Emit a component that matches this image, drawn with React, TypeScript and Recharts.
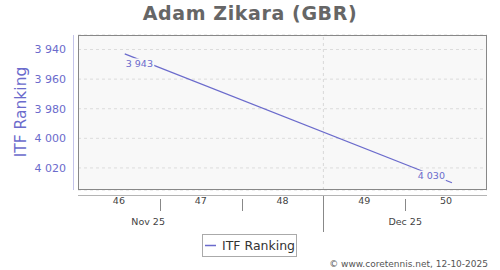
import React from 'react';
import { LineChart, Line, XAxis, YAxis, CartesianGrid, ReferenceLine, LabelList } from 'recharts';

// Days counted from Monday 10 Nov 2025 (start of ISO week 46)
const weekNumbers = [46, 47, 48, 49, 50];
const weekCenters = [3.5, 10.5, 17.5, 24.5, 31.5];
const monthLabels = ['Nov 25', 'Dec 25'];
const monthLabelDays = [6, 28];
const monthBoundaryDay = 21;
const pointDays = [4, 32];
const rankingValues = [3943, 4030];
const yTicks = [3940, 3960, 3980, 4000, 4020];

const data = pointDays.map((d, i) => ({ day: d, rank: rankingValues[i] }));

const FONT = '"DejaVu Sans", Verdana, sans-serif';
const LINE = '#6b6bcc';
const W = 500;
const H = 270;
const PL = 78;
const PR = 487;
const PT = 35;
const PB = 190;
const DOMAIN_X: [number, number] = [0, 35];
const xOf = (d: number) => PL + ((d - DOMAIN_X[0]) / (DOMAIN_X[1] - DOMAIN_X[0])) * (PR - PL);

const fmt = (n: number) => `${Math.floor(n / 1000)} ${String(n % 1000).padStart(3, '0')}`;

const WeekTick = (props: any) => {
  const { x, y, payload, index } = props;
  const i = weekCenters.indexOf(payload.value);
  const half = (xOf(7) - xOf(0)) / 2;
  const boundary = x + half;
  const isMonth = Math.abs(boundary - xOf(monthBoundaryDay)) < 1;
  return (
    <g>
      <text x={x} y={y + 14} textAnchor="middle" fontSize={9.5} fill="#444" fontFamily={FONT}>
        {weekNumbers[i >= 0 ? i : index]}
      </text>
      {boundary < PR - 2 && !isMonth ? (
        <line x1={Math.round(boundary) + 0.5} x2={Math.round(boundary) + 0.5} y1={y + 9} y2={y + 21} stroke="#888" />
      ) : null}
    </g>
  );
};

const PointLabel = (props: any) => {
  const { x, y, value, index } = props;
  const txt = fmt(Number(value));
  const w = txt.length * 5.5;
  const first = index === 0;
  const tx = first ? x + 1 : x - 7;
  const ty = first ? y + 9.5 : y - 7;
  const rx = first ? tx - 1 : tx - w - 1;
  return (
    <g>
      <rect x={rx} y={ty - 5} width={w + 2} height={10} fill="#f8f8f8" />
      <text x={tx} y={ty} textAnchor={first ? 'start' : 'end'} dominantBaseline="central" fontSize={9.5} fill={LINE} fontFamily={FONT}>
        {txt}
      </text>
    </g>
  );
};

export default function App() {
  return (
    <div style={{ position: 'absolute', left: 0, top: 0, width: W, height: H, background: '#fff', fontFamily: FONT }}>
      <LineChart width={W} height={H} data={data} margin={{ top: PT, right: W - PR, left: 0, bottom: 0 }}>
        <CartesianGrid vertical={false} stroke="#dcdcdc" strokeDasharray="3 3" fill="#f8f8f8" />
        <ReferenceLine x={monthBoundaryDay} stroke="#d8d8d8" strokeDasharray="3 3" />
        <XAxis
          type="number"
          dataKey="day"
          domain={DOMAIN_X}
          ticks={weekCenters}
          height={H - PB}
          axisLine={false}
          tickLine={false}
          tickSize={0}
          tickMargin={0}
          interval={0}
          tick={<WeekTick />}
          allowDataOverflow
        />
        <YAxis
          reversed
          domain={[3930.2, 4034.9]}
          ticks={yTicks}
          width={PL}
          axisLine={false}
          tickLine={false}
          tickSize={6}
          tickMargin={6}
          interval={0}
          allowDataOverflow
          tickFormatter={(v: number) => fmt(v)}
          tick={{ fontSize: 11, fill: LINE, fontFamily: FONT }}
        />
        <Line
          type="linear"
          dataKey="rank"
          stroke={LINE}
          strokeWidth={1.3}
          dot={false}
          isAnimationActive={false}
        >
          <LabelList dataKey="rank" content={<PointLabel />} />
        </Line>
      </LineChart>
      <svg width={W} height={H} style={{ position: 'absolute', left: 0, top: 0, pointerEvents: 'none' }}>
        <text x={250} y={20} textAnchor="middle" fontSize={19} letterSpacing={0.6} fontWeight="bold" fill="#666" fontFamily={FONT}>
          Adam Zikara (GBR)
        </text>
        <line x1={73.5} x2={73.5} y1={PT} y2={PB} stroke="#c4c4ea" />
        <text
          x={21}
          y={112}
          transform="rotate(-90 21 112)"
          textAnchor="middle"
          dominantBaseline="central"
          fontSize={15.5}
          fill={LINE}
          fontFamily={FONT}
        >
          ITF Ranking
        </text>
        <rect x={PL + 0.5} y={PT + 0.5} width={PR - PL - 1} height={PB - PT - 1} fill="none" stroke="#888" />
        <line x1={PL} x2={PR} y1={195.5} y2={195.5} stroke="#b4b4b4" />
        <line x1={Math.round(xOf(monthBoundaryDay)) + 0.5} x2={Math.round(xOf(monthBoundaryDay)) + 0.5} y1={196} y2={232} stroke="#888" />
        {monthLabels.map((m, i) => (
          <text key={m} x={xOf(monthLabelDays[i])} y={224.5} textAnchor="middle" fontSize={9.5} fill="#444" fontFamily={FONT}>
            {m}
          </text>
        ))}
        <rect x={202.5} y={234.5} width={94} height={22} fill="#fff" stroke="#aaa" />
        <line x1={205} x2={216} y1={245.5} y2={245.5} stroke={LINE} strokeWidth={1.5} />
        <text x={222} y={250} fontSize={12.5} fill="#333" fontFamily={FONT}>
          ITF Ranking
        </text>
        <text x={488} y={267} textAnchor="end" fontSize={9} fill="#555" fontFamily={FONT}>
          © www.coretennis.net, 12-10-2025
        </text>
      </svg>
    </div>
  );
}
